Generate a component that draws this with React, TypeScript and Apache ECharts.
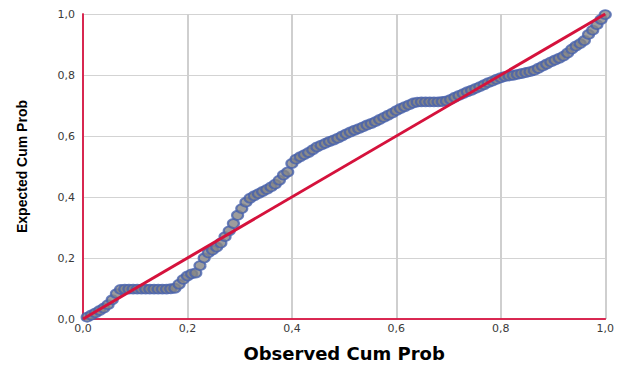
import React, { useEffect, useRef } from "react";
import * as echarts from "echarts";

const observedCumProb: number[] = [
  0.008, 0.016, 0.024, 0.032, 0.04, 0.048, 0.056, 0.064, 0.072, 0.08,
  0.088, 0.096, 0.104, 0.112, 0.12, 0.128, 0.136, 0.144, 0.152, 0.16,
  0.168, 0.176, 0.184, 0.192, 0.2, 0.208, 0.216, 0.224, 0.232, 0.24,
  0.248, 0.256, 0.264, 0.272, 0.28, 0.288, 0.296, 0.304, 0.312, 0.32,
  0.328, 0.336, 0.344, 0.352, 0.36, 0.368, 0.376, 0.384, 0.392, 0.4,
  0.408, 0.416, 0.424, 0.432, 0.44, 0.448, 0.456, 0.464, 0.472, 0.48,
  0.488, 0.496, 0.504, 0.512, 0.52, 0.528, 0.536, 0.544, 0.552, 0.56,
  0.568, 0.576, 0.584, 0.592, 0.6, 0.608, 0.616, 0.624, 0.632, 0.64,
  0.648, 0.656, 0.664, 0.672, 0.68, 0.688, 0.696, 0.704, 0.712, 0.72,
  0.728, 0.736, 0.744, 0.752, 0.76, 0.768, 0.776, 0.784, 0.792, 0.8,
  0.808, 0.816, 0.824, 0.832, 0.84, 0.848, 0.856, 0.864, 0.872, 0.88,
  0.888, 0.896, 0.904, 0.912, 0.92, 0.928, 0.936, 0.944, 0.952, 0.96,
  0.968, 0.976, 0.984, 0.992, 1.0,
];

const expectedCumProb: number[] = [
  0.006, 0.013, 0.02, 0.028, 0.036, 0.047, 0.063, 0.083, 0.097, 0.098,
  0.098, 0.098, 0.098, 0.098, 0.098, 0.098, 0.098, 0.098, 0.098, 0.098,
  0.099, 0.101, 0.114, 0.13, 0.141, 0.148, 0.151, 0.175, 0.2, 0.217,
  0.226, 0.236, 0.249, 0.27, 0.289, 0.313, 0.34, 0.362, 0.383, 0.396,
  0.404, 0.411, 0.418, 0.425, 0.433, 0.442, 0.455, 0.472, 0.482, 0.51,
  0.524, 0.532, 0.539, 0.546, 0.555, 0.564, 0.57, 0.576, 0.582, 0.587,
  0.593, 0.6, 0.607, 0.613, 0.619, 0.624, 0.63, 0.636, 0.641, 0.647,
  0.654, 0.661, 0.668, 0.675, 0.683, 0.69, 0.696, 0.702, 0.708, 0.711,
  0.712, 0.712, 0.712, 0.712, 0.712, 0.713, 0.715, 0.72, 0.727, 0.733,
  0.739, 0.745, 0.75, 0.756, 0.762, 0.768, 0.775, 0.78, 0.786, 0.791,
  0.795, 0.797, 0.799, 0.802, 0.805, 0.808, 0.811, 0.815, 0.822, 0.829,
  0.836, 0.843, 0.849, 0.855, 0.862, 0.872, 0.885, 0.895, 0.903, 0.913,
  0.933, 0.947, 0.965, 0.982, 0.998,
];

const refLineX: number[] = [0, 1];
const refLineY: number[] = [0, 1];

const xTitle = "Observed Cum Prob";
const yTitle = "Expected Cum Prob";

const fmt = (v: number) => v.toFixed(1).replace(".", ",");

export default function App() {
  const ref = useRef<HTMLDivElement>(null);

  useEffect(() => {
    document.body.style.margin = "0";
    if (!ref.current) return;
    const chart = echarts.init(ref.current, undefined, { renderer: "svg" });
    const frame = { show: true, lineStyle: { color: "#d81c48", width: 1.5 } };
    const labelStyle = {
      fontFamily: "DejaVu Sans, sans-serif",
      fontSize: 11,
      color: "#3a3a3a",
      formatter: fmt,
    };
    chart.setOption({
      animation: false,
      backgroundColor: "#ffffff",
      grid: { left: 83, right: 5, top: 14, bottom: 41, containLabel: false },
      xAxis: [
        {
          type: "value",
          min: 0,
          max: 1,
          interval: 0.2,
          position: "bottom",
          axisLine: frame,
          axisTick: { show: false },
          axisLabel: { ...labelStyle, margin: 4 },
          splitLine: { show: true, lineStyle: { color: "#cfcfcf", width: 2 } },
          name: xTitle,
          nameLocation: "middle",
          nameGap: 25,
          nameTextStyle: {
            fontFamily: "DejaVu Sans, sans-serif",
            fontWeight: "bold",
            fontSize: 18,
            color: "#000",
          },
        },
        {
          type: "value",
          min: 0,
          max: 1,
          position: "top",
          axisLine: frame,
          axisTick: { show: false },
          axisLabel: { show: false },
          splitLine: { show: false },
        },
      ],
      yAxis: [
        {
          type: "value",
          min: 0,
          max: 1,
          interval: 0.2,
          position: "left",
          axisLine: frame,
          axisTick: { show: false },
          axisLabel: { ...labelStyle, margin: 8 },
          splitLine: { show: true, lineStyle: { color: "#d3d3d3", width: 1 } },
          name: yTitle,
          nameLocation: "middle",
          nameGap: 54,
          nameTextStyle: {
            fontFamily: '"Liberation Sans", Arial, sans-serif',
            fontWeight: "bold",
            fontSize: 14,
            color: "#000",
          },
        },
        {
          type: "value",
          min: 0,
          max: 1,
          position: "right",
          axisLine: frame,
          axisTick: { show: false },
          axisLabel: { show: false },
          splitLine: { show: false },
        },
      ],
      series: [
        {
          type: "scatter",
          data: observedCumProb.map((x, i) => [x, expectedCumProb[i]]),
          symbol: "circle",
          symbolSize: [11, 9],
          itemStyle: { color: "#858585", borderColor: "#4762ac", borderWidth: 2 },
          z: 2,
        },
        {
          type: "line",
          data: refLineX.map((x, i) => [x, refLineY[i]]),
          showSymbol: false,
          lineStyle: { color: "#d5123c", width: 3 },
          z: 3,
        },
      ],
    });
    return () => chart.dispose();
  }, []);

  return <div ref={ref} style={{ width: 617, height: 367 }} />;
}
